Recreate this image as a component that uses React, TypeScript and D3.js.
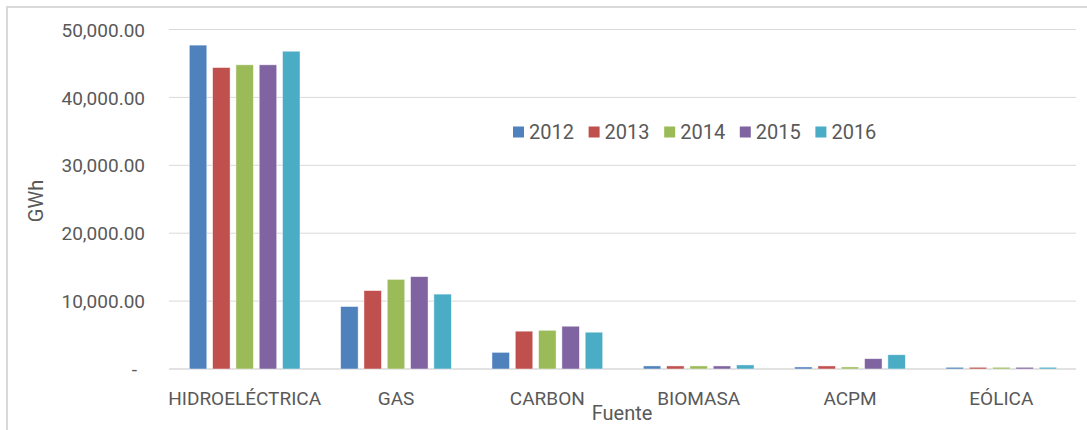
import * as d3 from "d3";
import { useRef, useEffect } from "react";

const categories = ["HIDROELÉCTRICA", "GAS", "CARBON", "BIOMASA", "ACPM", "EÓLICA"];
const years = ["2012", "2013", "2014", "2015", "2016"];
const colors = ["#4F81BD", "#C0504D", "#9BBB59", "#8064A2", "#4BACC6"];

// GWh por fuente, una lista por año
const v2012 = [47700, 9200, 2450, 450, 300, 250];
const v2013 = [44400, 11550, 5570, 450, 450, 250];
const v2014 = [44800, 13200, 5700, 450, 300, 250];
const v2015 = [44800, 13600, 6300, 450, 1520, 250];
const v2016 = [46800, 11030, 5420, 600, 2100, 250];
const series = [v2012, v2013, v2014, v2015, v2016];

const yTicks = [0, 10000, 20000, 30000, 40000, 50000];

const width = 1087;
const height = 430;
const marginLeft = 169;
const marginRight = 10;
const marginTop = 29.5;
const plotBottom = 369;
const font = "Roboto, 'Liberation Sans', sans-serif";
const textColor = "#595959";

export default function App() {
  const gy = useRef<SVGGElement>(null);

  const x0 = d3.scaleBand()
    .domain(categories)
    .range([marginLeft, width - marginRight])
    .paddingInner(0.23)
    .paddingOuter(0.115);

  const x1 = d3.scaleBand()
    .domain(years)
    .range([0, x0.bandwidth()])
    .paddingInner(0.25)
    .paddingOuter(0.125);

  const y = d3.scaleLinear()
    .domain([0, 50000])
    .range([plotBottom, marginTop]);

  useEffect(() => {
    const g = d3.select(gy.current);
    g.call(
      d3.axisLeft(y)
        .tickValues(yTicks)
        .tickSize(0)
        .tickPadding(24)
        .tickFormat(d => (+d === 0 ? "-" : d3.format(",.2f")(+d)))
    );
    g.select(".domain").remove();
    g.selectAll("text")
      .attr("fill", textColor)
      .attr("font-size", 19)
      .attr("font-family", font)
      .attr("dy", "0.35em")
      .attr("dx", (d: any) => (+d === 0 ? -8 : 0));
  }, []);

  return (
    <svg width={width} height={height} style={{ position: "absolute", left: 0, top: 0 }}>
      <rect x={7} y={7} width={width} height={height} fill="white" stroke="#D9D9D9" strokeWidth={2} />

      {/* líneas de cuadrícula */}
      <g>
        {yTicks.map(t => (
          <line key={t} x1={marginLeft} x2={1076} y1={y(t)} y2={y(t)}
            stroke="#D9D9D9" strokeWidth={t === 0 ? 1.5 : 1} />
        ))}
      </g>

      <g ref={gy} transform={`translate(${marginLeft},0)`} />

      {/* barras */}
      {categories.map((c, i) => (
        <g key={c} transform={`translate(${x0(c)},0)`}>
          {series.map((s, j) => (
            <rect key={years[j]}
              x={x1(years[j])}
              y={y(s[i])}
              width={x1.bandwidth()}
              height={y(0) - y(s[i])}
              fill={colors[j]}
              stroke="white"
              strokeOpacity={0.6}
              strokeWidth={0.75} />
          ))}
        </g>
      ))}

      {/* etiquetas de categoría */}
      {categories.map(c => (
        <text key={c} x={(x0(c) ?? 0) + x0.bandwidth() / 2} y={398} dy="0.35em"
          textAnchor="middle" fill={textColor} fontSize={19} fontFamily={font}>{c}</text>
      ))}

      {/* leyenda */}
      {years.map((yr, j) => (
        <g key={yr} transform={`translate(${513 + j * 75.6},132)`}>
          <rect x={0} y={-5.5} width={11} height={11} fill={colors[j]} />
          <text x={16} y={0} dy="0.35em" fill={textColor} fontSize={20} fontFamily={font}>{yr}</text>
        </g>
      ))}

      <text x={622} y={413} dy="0.35em" textAnchor="middle" fill={textColor} fontSize={20} fontFamily={font}>Fuente</text>
      <text transform="translate(36,201) rotate(-90)" dy="0.35em" textAnchor="middle" fill={textColor} fontSize={20} fontFamily={font}>GWh</text>
    </svg>
  );
}
